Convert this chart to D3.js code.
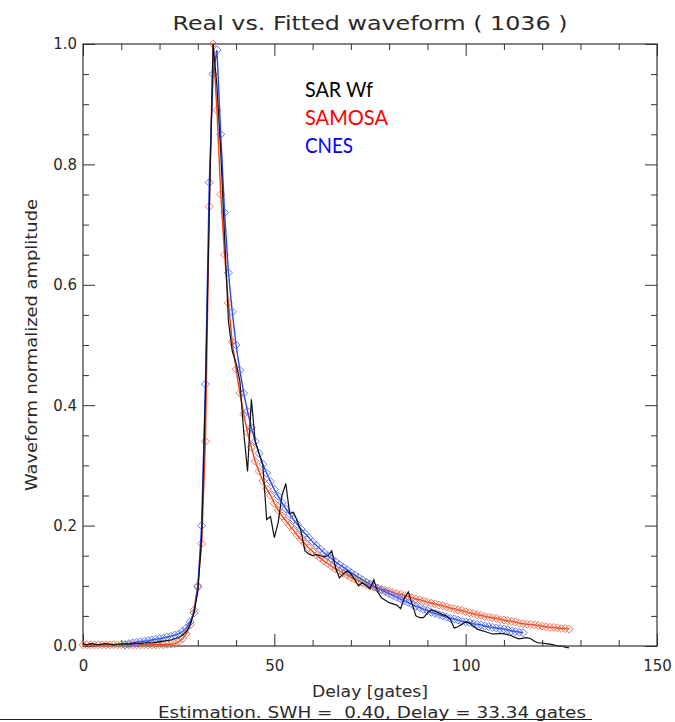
<!DOCTYPE html>
<html>
<head>
<meta charset="utf-8">
<script src="https://cdn.jsdelivr.net/npm/d3@7"></script>
<style>
  body { margin: 0; background: #fff; }
  svg text { font-family: "DejaVu Sans", sans-serif; fill: #2a2a2a; }
</style>
</head>
<body>
<div id="chart"></div>
<script>
// gate index of the first value of each series
var sarStart = 0;
var samosaStart = 0;
var cnesStart = 11;

// SAR Wf (black), gates 0..127
var sarWf = [
  0.003, 0.002, 0.004, 0.003, 0.002, 0.003, 0.004, 0.003, 0.002, 0.003,
  0.003, 0.004, 0.003, 0.004, 0.005, 0.004, 0.005, 0.006, 0.005, 0.006,
  0.007, 0.008, 0.009, 0.010, 0.012, 0.014, 0.018, 0.024, 0.035, 0.055,
  0.090, 0.180, 0.420, 0.720, 1.000, 0.930, 0.820, 0.680, 0.540, 0.490,
  0.470, 0.440, 0.355, 0.290, 0.410, 0.340, 0.320, 0.300, 0.210, 0.215,
  0.180, 0.205, 0.250, 0.270, 0.220, 0.222, 0.208, 0.190, 0.158, 0.153,
  0.150, 0.152, 0.150, 0.148, 0.150, 0.158, 0.130, 0.113, 0.120, 0.125,
  0.120, 0.110, 0.100, 0.105, 0.100, 0.095, 0.110, 0.090, 0.080, 0.076,
  0.072, 0.070, 0.068, 0.062, 0.080, 0.090, 0.070, 0.050, 0.047, 0.047,
  0.055, 0.060, 0.058, 0.055, 0.052, 0.050, 0.044, 0.030, 0.032, 0.036,
  0.040, 0.038, 0.033, 0.028, 0.026, 0.024, 0.022, 0.020, 0.020, 0.021,
  0.020, 0.019, 0.017, 0.014, 0.012, 0.013, 0.014, 0.012, 0.008, 0.005,
  0.005, 0.004, 0.003, 0.002, 0.000, 0.000, -0.002, -0.003
];

// SAMOSA fit (red), gates 0..127
var samosa = [
  0.002, 0.002, 0.002, 0.002, 0.002, 0.002, 0.002, 0.002, 0.002, 0.002,
  0.002, 0.002, 0.002, 0.002, 0.002, 0.002, 0.002, 0.002, 0.002, 0.002,
  0.002, 0.002, 0.003, 0.003, 0.004, 0.007, 0.012, 0.020, 0.035, 0.060,
  0.100, 0.170, 0.340, 0.730, 1.000, 0.890, 0.750, 0.650, 0.570, 0.505,
  0.460, 0.420, 0.385, 0.355, 0.330, 0.307, 0.290, 0.274, 0.261, 0.250,
  0.237, 0.226, 0.216, 0.208, 0.200, 0.192, 0.184, 0.177, 0.170, 0.163,
  0.157, 0.151, 0.146, 0.141, 0.137, 0.132, 0.128, 0.125, 0.121, 0.118,
  0.114, 0.111, 0.108, 0.105, 0.102, 0.100, 0.098, 0.096, 0.094, 0.093,
  0.091, 0.089, 0.087, 0.086, 0.084, 0.082, 0.080, 0.078, 0.077, 0.075,
  0.073, 0.071, 0.070, 0.068, 0.067, 0.065, 0.063, 0.062, 0.060, 0.059,
  0.057, 0.055, 0.054, 0.052, 0.051, 0.049, 0.048, 0.047, 0.046, 0.044,
  0.043, 0.042, 0.041, 0.040, 0.038, 0.037, 0.036, 0.036, 0.035, 0.034,
  0.033, 0.032, 0.031, 0.031, 0.030, 0.029, 0.029, 0.028
];

// CNES fit (blue), gates 11..115
var cnes = [
  0.002, 0.004, 0.005, 0.006, 0.007, 0.008, 0.009, 0.010, 0.011,
  0.012, 0.013, 0.015, 0.016, 0.018, 0.020, 0.024, 0.030, 0.040, 0.055,
  0.098, 0.200, 0.435, 0.770, 0.950, 0.990, 0.850, 0.720, 0.620, 0.555,
  0.500, 0.458, 0.420, 0.390, 0.363, 0.340, 0.320, 0.302, 0.287, 0.273,
  0.260, 0.249, 0.238, 0.228, 0.219, 0.210, 0.202, 0.194, 0.187, 0.180,
  0.173, 0.167, 0.161, 0.155, 0.150, 0.145, 0.140, 0.135, 0.131, 0.127,
  0.122, 0.118, 0.114, 0.110, 0.106, 0.103, 0.099, 0.096, 0.093, 0.090,
  0.087, 0.084, 0.081, 0.078, 0.075, 0.072, 0.069, 0.066, 0.064, 0.061,
  0.059, 0.056, 0.054, 0.052, 0.050, 0.048, 0.046, 0.045, 0.043, 0.041,
  0.040, 0.039, 0.037, 0.036, 0.035, 0.033, 0.032, 0.031, 0.030, 0.029,
  0.028, 0.027, 0.025, 0.024, 0.023, 0.022
];

var xTicks = [0, 50, 100, 150];
var yTicks = [0, 0.2, 0.4, 0.6, 0.8, 1.0];
var xMinor = [10, 20, 30, 40, 60, 70, 80, 90, 110, 120, 130, 140];
var yMinor = [0.05, 0.1, 0.15, 0.25, 0.3, 0.35, 0.45, 0.5, 0.55, 0.65, 0.7, 0.75, 0.85, 0.9, 0.95];

var legendNames = ["SAR Wf", "SAMOSA", "CNES"];
var legendColors = ["#000000", "#ff0000", "#0000ff"];

function main(){
    var W = 675, H = 722;
    var left = 83, right = 657, top = 44, bottom = 646;

    var svg = d3.select("#chart").append("svg")
        .attr("width", W)
        .attr("height", H);

    svg.append("rect").attr("width", W).attr("height", H).attr("fill", "#fff");

    var x = d3.scaleLinear().domain([0, 150]).range([left, right]);
    var y = d3.scaleLinear().domain([0, 1]).range([bottom, top]);

    function toPoints(arr, start){
        return arr.map(function(v, i){ return [start + i, v]; });
    }

    // title
    svg.append("text")
        .attr("x", 370).attr("y", 30)
        .attr("text-anchor", "middle")
        .attr("font-size", "20px")
        .attr("textLength", 395)
        .attr("lengthAdjust", "spacingAndGlyphs")
        .text("Real vs. Fitted waveform ( 1036 )");

    // axes: all ticks point into the plot
    function styleAxis(g){
        g.select(".domain").remove();
        g.selectAll("line").attr("stroke", "#333");
        g.selectAll("text")
            .attr("font-size", "15px")
            .attr("font-family", "DejaVu Sans, sans-serif")
            .attr("fill", "#2a2a2a");
    }

    svg.append("g").attr("transform", "translate(0," + bottom + ")")
        .call(d3.axisBottom(x).tickValues(xTicks).tickSize(-12).tickSizeOuter(0).tickPadding(14).tickFormat(d3.format("d")))
        .call(styleAxis);
    svg.append("g").attr("transform", "translate(0," + bottom + ")")
        .call(d3.axisBottom(x).tickValues(xMinor).tickSize(-6).tickSizeOuter(0).tickFormat(""))
        .call(styleAxis);
    svg.append("g").attr("transform", "translate(0," + top + ")")
        .call(d3.axisTop(x).tickValues(xTicks).tickSize(-12).tickSizeOuter(0).tickFormat(""))
        .call(styleAxis);
    svg.append("g").attr("transform", "translate(0," + top + ")")
        .call(d3.axisTop(x).tickValues(xMinor).tickSize(-6).tickSizeOuter(0).tickFormat(""))
        .call(styleAxis);

    svg.append("g").attr("transform", "translate(" + left + ",0)")
        .call(d3.axisLeft(y).tickValues(yTicks).tickSize(-12).tickSizeOuter(0).tickPadding(6).tickFormat(d3.format(".1f")))
        .call(styleAxis);
    svg.append("g").attr("transform", "translate(" + left + ",0)")
        .call(d3.axisLeft(y).tickValues(yMinor).tickSize(-6).tickSizeOuter(0).tickFormat(""))
        .call(styleAxis);
    svg.append("g").attr("transform", "translate(" + right + ",0)")
        .call(d3.axisRight(y).tickValues(yTicks).tickSize(-12).tickSizeOuter(0).tickFormat(""))
        .call(styleAxis);
    svg.append("g").attr("transform", "translate(" + right + ",0)")
        .call(d3.axisRight(y).tickValues(yMinor).tickSize(-6).tickSizeOuter(0).tickFormat(""))
        .call(styleAxis);

    // frame
    svg.append("rect")
        .attr("x", left).attr("y", top)
        .attr("width", right - left).attr("height", bottom - top)
        .attr("fill", "none").attr("stroke", "#333").attr("stroke-width", 1.2);

    var line = d3.line()
        .x(function(d){ return x(d[0]); })
        .y(function(d){ return y(d[1]); });

    var diamond = "M0,-4L4,0L0,4L-4,0Z";

    function drawFit(data, lineColor, markColor){
        var g = svg.append("g");
        g.append("path").datum(data)
            .attr("d", line)
            .attr("fill", "none")
            .attr("stroke", lineColor)
            .attr("stroke-width", 1.4);
        g.selectAll("path.mk").data(data).enter().append("path")
            .attr("class", "mk")
            .attr("d", diamond)
            .attr("transform", function(d){ return "translate(" + x(d[0]) + "," + y(d[1]) + ")"; })
            .attr("fill", "none")
            .attr("stroke", markColor)
            .attr("stroke-width", 1)
            .attr("stroke-opacity", 0.9);
    }

    drawFit(toPoints(samosa, samosaStart), "#f0401a", "#f26a48");
    drawFit(toPoints(cnes, cnesStart), "#2846f0", "#4f6ef2");

    svg.append("path").datum(toPoints(sarWf, sarStart))
        .attr("d", line)
        .attr("fill", "none")
        .attr("stroke", "#111")
        .attr("stroke-width", 1.2);

    // legend
    var legendY = [97, 125, 153];
    var legendLen = [68, 83, 48];
    svg.selectAll("text.leg").data(legendNames).enter().append("text")
        .attr("class", "leg")
        .attr("x", 305)
        .attr("y", function(d, i){ return legendY[i]; })
        .style("font-family", "Lato, 'Open Sans', sans-serif")
        .attr("font-size", "22px")
        .attr("textLength", function(d, i){ return legendLen[i]; })
        .attr("lengthAdjust", "spacingAndGlyphs")
        .style("fill", function(d, i){ return legendColors[i]; })
        .text(function(d){ return d; });

    // axis titles
    svg.append("text")
        .attr("transform", "translate(37,345) rotate(-90)")
        .attr("text-anchor", "middle")
        .attr("font-size", "16px")
        .attr("textLength", 292)
        .attr("lengthAdjust", "spacingAndGlyphs")
        .text("Waveform normalized amplitude");

    svg.append("text")
        .attr("x", 370).attr("y", 697)
        .attr("text-anchor", "middle")
        .attr("font-size", "16px")
        .attr("textLength", 116)
        .attr("lengthAdjust", "spacingAndGlyphs")
        .text("Delay [gates]");

    svg.append("text")
        .attr("x", 372).attr("y", 718)
        .attr("text-anchor", "middle")
        .attr("font-size", "16px")
        .attr("textLength", 428)
        .attr("lengthAdjust", "spacingAndGlyphs")
        .style("white-space", "pre")
        .text("Estimation. SWH =  0.40, Delay = 33.34 gates");

    svg.append("line")
        .attr("x1", 0).attr("x2", 592)
        .attr("y1", 719.5).attr("y2", 719.5)
        .attr("stroke", "#222").attr("stroke-width", 1.2);
}
main();
</script>
</body>
</html>
